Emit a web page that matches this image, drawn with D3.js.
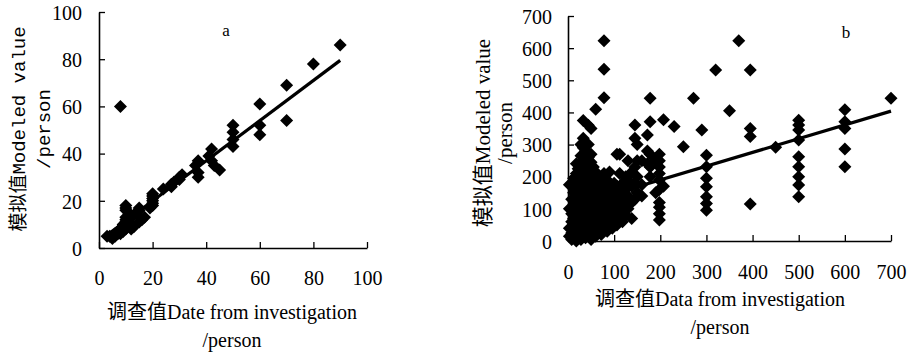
<!DOCTYPE html>
<html>
<head>
<meta charset="utf-8">
<script src="https://cdn.jsdelivr.net/npm/d3@7"></script>
<style>
  body { margin: 0; background: #fff; }
  svg { display: block; }
</style>
</head>
<body>
<div id="chart"></div>
<script>
// panel a: investigated vs modeled values
const aInvest = [90,80,70,70,60,60,60,50,50,50,50,8,42,41,42,43,45,37,36,37,37,31,30,30,28,27,27,24,
  20,20,20,20,20,20,19,15,15,14,13,12,10,10,10,11,10,10,10,11,12,9,9,8,8,10,7,7,6,5,4,3,5,6,8,9,12,13,15,16,17];
const aModel  = [86,78,69,54,61,52,48,52,49,46,43,60,42,39,37,35,33,37,35,32,30,31,30,29,28,27,26,25,
  23,22,21,20,19,18,17,17,16,15,14,13,18,17,16,15,13,12,11,10,10,10,9,8,7,8,7,6,6,5,5,5,4,5,6,7,8,9,11,12,13];
const aFitX = [3, 90];
const aFitY = [5.5, 79.5];
const aTicksX = [0, 20, 40, 60, 80, 100];
const aTicksY = [0, 20, 40, 60, 80, 100];

// panel b
const bInvest = [
  3,3,3,3,
  8,8,8,8,8,8,
  12,12,12,12,12,12,
  18,18,18,18,18,18,18,18,
  22,22,22,22,22,22,
  28,28,28,28,28,28,28,28,28,
  33,33,33,33,33,33,33,33,33,33,
  38,38,38,38,38,38,38,38,
  44,44,44,44,44,44,44,44,44,
  50,50,50,50,50,50,50,50,50,
  55,55,55,55,55,55,
  60,60,60,60,60,60,60,
  66,66,66,66,66,
  72,72,72,72,72,
  78,78,78,78,78,78,78,78,
  85,85,85,85,85,
  90,90,90,90,90,
  96,96,96,96,
  100,100,100,100,
  106,106,106,106,106,
  112,112,112,112,112,
  118,118,118,118,
  125,125,125,125,
  130,130,130,130,
  138,138,138,138,
  145,145,145,145,145,
  150,150,150,150,
  160,160,160,
  172,172,172,
  178,178,178,178,178,
  190,190,
  198,198,198,198,198,198,198,198,198,198,
  207,207,
  230,250,272,290,
  300,300,300,300,300,300,300,
  320,350,370,
  395,395,395,395,
  450,
  500,500,500,500,500,500,500,500,500,
  600,600,600,600,600,
  700
];
const bModel = [
  15,40,100,175,
  5,25,60,85,130,180,
  10,35,70,110,150,195,
  0,20,45,80,120,160,210,240,
  15,60,100,140,180,225,
  5,30,70,110,150,190,230,265,300,
  20,50,90,130,170,210,250,290,320,375,
  10,40,80,120,160,200,240,280,
  25,60,100,140,180,220,260,300,360,
  5,45,85,125,165,205,245,270,350,
  30,70,110,150,190,230,
  15,55,95,135,175,215,410,
  40,80,120,160,200,
  20,60,100,140,180,
  45,85,125,165,210,446,534,623,
  30,70,110,150,190,
  55,95,135,175,215,
  40,80,120,160,
  60,100,140,180,
  50,90,130,170,270,
  70,110,150,210,270,
  60,100,140,180,
  80,120,160,200,
  100,140,190,250,
  70,120,170,215,
  130,180,230,320,361,
  150,200,250,300,
  140,175,250,
  330,280,240,
  444,371,270,230,200,
  150,250,
  270,250,230,210,190,160,120,105,85,65,
  377,170,
  356,293,444,345,
  267,231,195,169,138,117,96,
  532,405,623,
  532,350,325,115,
  292,
  376,361,345,314,262,231,200,174,138,
  408,371,350,286,231,
  444
];
const bFitX = [10, 700];
const bFitY = [109, 404];
const bTicksX = [0, 100, 200, 300, 400, 500, 600, 700];
const bTicksY = [0, 100, 200, 300, 400, 500, 600, 700];

const W = 908, H = 357;
const svg = d3.select("#chart").append("svg")
  .attr("width", W).attr("height", H)
  .style("background", "#fff");

const diamond = "M0,-6.5L6.5,0L0,6.5L-6.5,0Z";
const serif = "'Liberation Serif', 'DejaVu Serif', serif, 'Noto Sans CJK SC'";
const mono = "'Liberation Mono', 'DejaVu Sans Mono', monospace, 'Noto Sans CJK SC'";

function panel(opt) {
  const x = d3.scaleLinear().domain(opt.xDomain).range(opt.xRange);
  const y = d3.scaleLinear().domain(opt.yDomain).range(opt.yRange);
  const g = svg.append("g");

  // points
  g.selectAll("path.pt")
    .data(opt.xs.map((v, i) => [v, opt.ys[i]]))
    .enter()
    .append("path")
    .attr("class", "pt")
    .attr("d", diamond)
    .attr("transform", d => `translate(${x(d[0])},${y(d[1])})`)
    .attr("fill", "#000");

  // fitted line
  g.append("line")
    .attr("x1", x(opt.fitX[0])).attr("y1", y(opt.fitY[0]))
    .attr("x2", x(opt.fitX[1])).attr("y2", y(opt.fitY[1]))
    .attr("stroke", "#000")
    .attr("stroke-width", 3.2);

  // axes, ticks pointing inwards
  const xa = g.append("g")
    .attr("transform", `translate(0,${opt.yRange[0]})`)
    .call(d3.axisBottom(x).tickValues(opt.ticksX).tickSizeInner(-6).tickSizeOuter(0).tickPadding(opt.xPad));
  const ya = g.append("g")
    .attr("transform", `translate(${opt.xRange[0]},0)`)
    .call(d3.axisLeft(y).tickValues(opt.ticksY).tickSizeInner(-6).tickSizeOuter(0).tickPadding(opt.yPad));

  [xa, ya].forEach(a => {
    a.attr("font-family", null).attr("font-size", null);
    a.select(".domain").attr("stroke", "#000").attr("stroke-width", 1.6);
    a.selectAll(".tick line").attr("stroke", "#000").attr("stroke-width", 1.3);
    a.selectAll(".tick text")
      .attr("fill", "#000")
      .style("font-family", serif)
      .style("font-size", "20px");
  });
  ya.selectAll(".tick text").attr("dy", "0.36em");

  // panel letter
  g.append("text")
    .attr("x", opt.letterPos[0]).attr("y", opt.letterPos[1])
    .attr("text-anchor", "middle")
    .style("font-family", serif).style("font-size", "17px")
    .text(opt.letter);

  // x title
  opt.xTitle.forEach((t, i) => {
    g.append("text")
      .attr("x", opt.xTitleX).attr("y", opt.xTitleY[i])
      .attr("text-anchor", "middle")
      .style("font-family", serif).style("font-size", "20px")
      .text(t);
  });

  // y title (rotated)
  opt.yTitle.forEach((t, i) => {
    g.append("text")
      .attr("transform", `translate(${opt.yTitleX[i]},${opt.yTitleY}) rotate(-90)`)
      .attr("text-anchor", "middle")
      .attr("dy", "0.35em")
      .style("font-family", opt.yFont).style("font-size", opt.yFontSize)
      .text(t);
  });
}

panel({
  xs: aInvest, ys: aModel, fitX: aFitX, fitY: aFitY,
  xDomain: [0, 100], yDomain: [0, 100],
  xRange: [99, 367], yRange: [248, 12],
  ticksX: aTicksX, ticksY: aTicksY,
  xPad: 23, yPad: 17,
  letter: "a", letterPos: [226, 36],
  xTitle: ["调查值Date from investigation", "/person"],
  xTitleX: 232, xTitleY: [319, 347],
  yTitle: ["模拟值Modeled value", "/person"],
  yTitleX: [18, 43], yTitleY: 129,
  yFont: mono, yFontSize: "19px"
});

panel({
  xs: bInvest, ys: bModel, fitX: bFitX, fitY: bFitY,
  xDomain: [0, 700], yDomain: [0, 700],
  xRange: [568, 891], yRange: [241, 16],
  ticksX: bTicksX, ticksY: bTicksY,
  xPad: 24, yPad: 16,
  letter: "b", letterPos: [846, 38],
  xTitle: ["调查值Data from investigation", "/person"],
  xTitleX: 720, xTitleY: [306, 334],
  yTitle: ["模拟值Modeled value", "/person"],
  yTitleX: [483, 505], yTitleY: 133,
  yFont: serif, yFontSize: "21px"
});
</script>
</body>
</html>
